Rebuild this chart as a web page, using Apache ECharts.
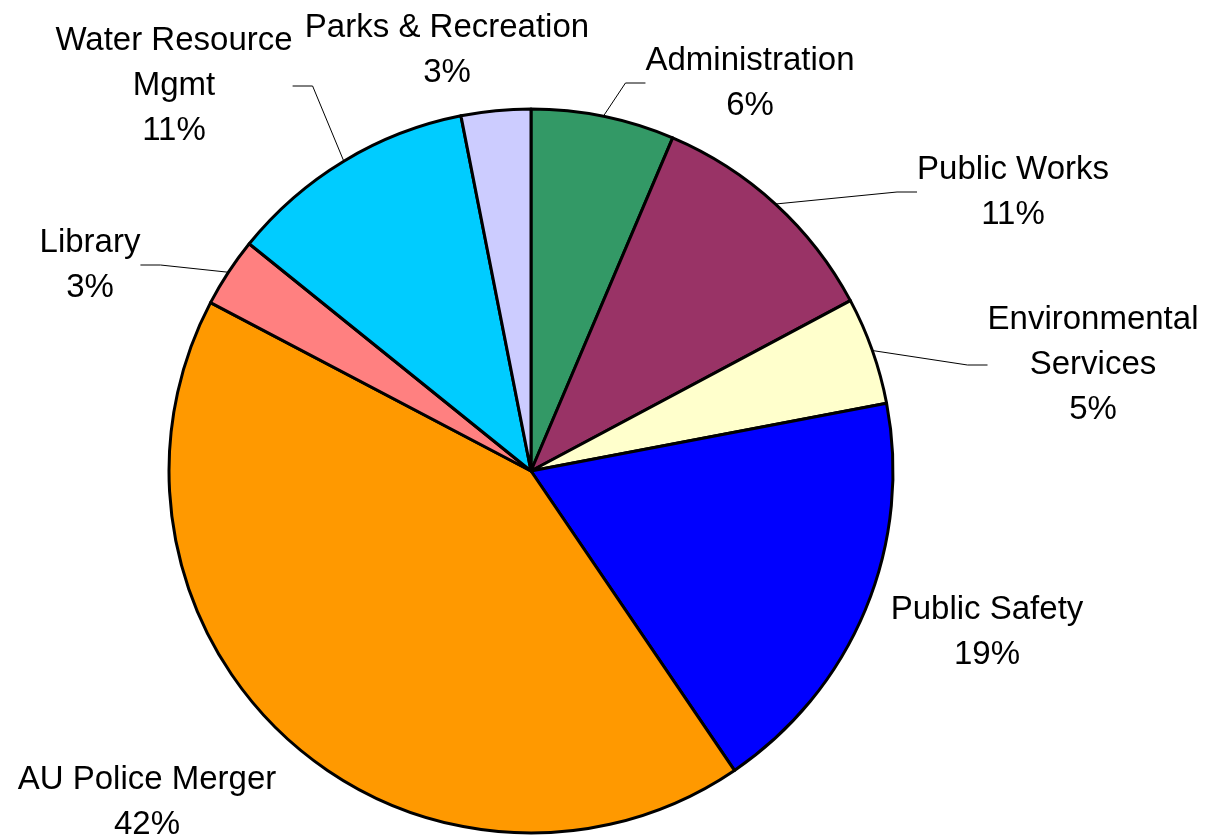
<!DOCTYPE html>
<html>
<head>
<meta charset="utf-8">
<script src="https://cdn.jsdelivr.net/npm/echarts@6/dist/echarts.min.js"></script>
<style>
html,body{margin:0;padding:0;background:#fff;}
#chart{width:1205px;height:840px;}
</style>
</head>
<body>
<div id="chart"></div>
<script>
// ---- data ----
var categories = ['Administration', 'Public Works', 'Environmental\nServices', 'Public Safety',
                  'AU Police Merger', 'Library', 'Water Resource\nMgmt', 'Parks & Recreation'];
var values = [6.4, 10.8, 4.8, 18.5, 42.2, 3.1, 11.1, 3.1];
var colors = ['#339966', '#993366', '#FFFFCC', '#0000FF', '#FF9900', '#FF8080', '#00CCFF', '#CCCCFF'];

// ---- layout (label placement relative to pie centre, px) ----
var PIE_CX = 531, PIE_CY = 471, PIE_R = 362;
var labelOffsets = [[219, -388], [482, -279], [562, -106], [456, 161],
                    [-384, 331], [-441, -206], [-357, -385], [-84, -421]];
var showLine = [true, true, true, false, false, true, true, false];

var chart = echarts.init(document.getElementById('chart'), null, {renderer: 'canvas'});
var data = categories.map(function (c, i) {
  return {
    name: c,
    value: values[i],
    itemStyle: {color: colors[i]},
    labelLine: {show: showLine[i]}
  };
});
chart.setOption({
  backgroundColor: '#ffffff',
  animation: false,
  series: [{
    type: 'pie',
    center: [PIE_CX, PIE_CY],
    radius: PIE_R,
    startAngle: 90,
    clockwise: true,
    avoidLabelOverlap: false,
    data: data,
    itemStyle: {borderColor: '#000', borderWidth: 3},
    emphasis: {disabled: true},
    label: {
      show: true,
      position: 'outside',
      color: '#000',
      fontFamily: 'Liberation Sans, Arial, sans-serif',
      fontSize: 33,
      lineHeight: 45,
      formatter: function (p) { return p.name + '\n' + Math.round(p.percent) + '%'; }
    },
    labelLine: {
      show: true,
      length: 15,
      length2: 20,
      smooth: false,
      lineStyle: {color: '#000', width: 1}
    },
    labelLayout: function (p) {
      var o = labelOffsets[p.dataIndex];
      return {x: PIE_CX + o[0], y: PIE_CY + o[1], align: 'center', verticalAlign: 'middle'};
    }
  }]
});
</script>
</body>
</html>
